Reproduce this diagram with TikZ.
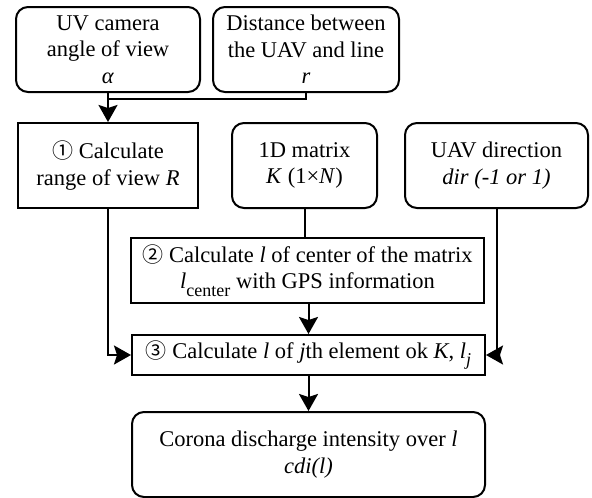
\documentclass[tikz,border=0pt]{standalone}
\usepackage{fontspec}
\setmainfont{Liberation Serif}
\newfontfamily\cjk{Noto Sans CJK SC}[Scale=1.0]
\usetikzlibrary{arrows.meta,calc}
\newcommand{\circnum}[1]{{\cjk\fontsize{21}{21}\selectfont #1}}
\newcommand{\lsub}[1]{\textit{l}\raisebox{-0.32em}{\fontsize{18}{18}\selectfont #1}}
\begin{document}
\begin{tikzpicture}[x=1pt,y=-1pt, line width=2pt,
  every node/.style={font=\fontsize{22.5}{26.5}\selectfont, align=center, inner sep=0pt, line width=2pt},
  rbox/.style={draw, rounded corners=12pt},
  sbox/.style={draw},
  conn/.style={line width=2pt},
  arr/.style={conn, -{Stealth[length=17pt,width=19pt,inset=3pt]}}]
\useasboundingbox (0,0) rectangle (592,498);
\node[rbox, minimum width=184pt, minimum height=85pt] (A) at (108,49.5) {UV camera\\angle of view\\\textit{α}};
\node[rbox, minimum width=186pt, minimum height=85pt] (B) at (306,49.5) {Distance between\\the UAV and line\\\textit{r}};
\node[sbox, minimum width=180pt, minimum height=85pt] (S1) at (108,165.5) {\circnum{①} Calculate\\range of view \textit{R}};
\node[rbox, minimum width=145pt, minimum height=85pt] (K) at (304.5,165.5) {1D matrix\\\textit{K} (1×\textit{N})};
\node[rbox, minimum width=183pt, minimum height=85pt] (D) at (496.5,165.5) {UAV direction\\\textit{dir (-1 or 1)}};
\node[sbox, minimum width=353pt, minimum height=65pt] (S2) at (307.5,270.5) {\circnum{②} Calculate \textit{l} of center of the matrix\\\lsub{center} with GPS information};
\node[sbox, minimum width=353pt, minimum height=40pt] (S3) at (308.5,355) {\circnum{③} Calculate \textit{l} of \textit{j}th element ok \textit{K}, \lsub{\textit{j}}};
\node[rbox, minimum width=353pt, minimum height=85pt] (E) at (308.5,454.5) {Corona discharge intensity over \textit{l}\\\textit{cdi(l)}};
\coordinate (J) at (108,99);
\draw[arr] (A.south) -- (S1.north);
\draw[conn] (B.south) |- (J);
\draw[conn] (K.south) -- (K.south |- S2.north);
\draw[arr] (S2.south -| S3.north) -- (S3.north);
\draw[arr] (S1.south) |- (S3.west);
\draw[arr] (D.south) |- (S3.east);
\draw[arr] (S3.south) -- (E.north);
\end{tikzpicture}
\end{document}
